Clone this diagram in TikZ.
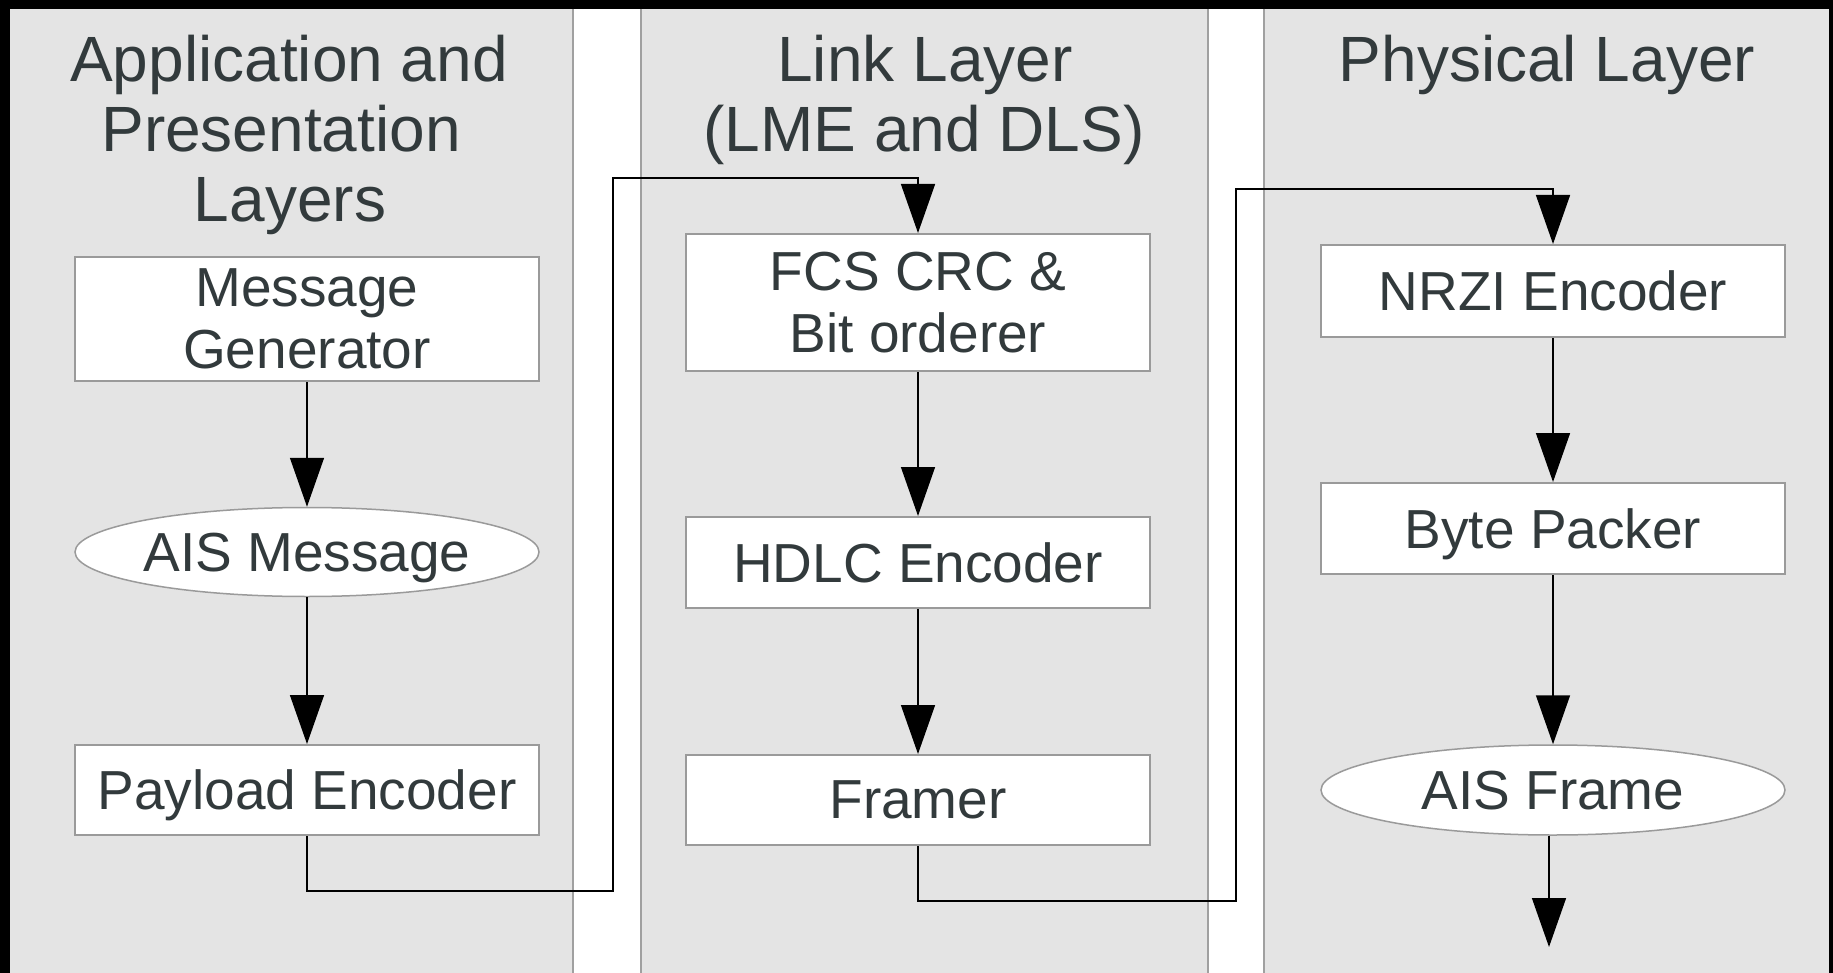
\documentclass[tikz,border=0pt]{standalone}
\usepackage{fontspec}
\setmainfont{Liberation Sans}
\usetikzlibrary{arrows.meta,shapes.geometric}
\definecolor{colbg}{HTML}{E4E4E4}
\definecolor{sepline}{HTML}{A0A0A0}
\definecolor{boxline}{HTML}{9A9A9A}
\definecolor{txt}{HTML}{323A3C}
\begin{document}
\begin{tikzpicture}[x=1pt,y=-1pt,
  title/.style={anchor=base,text=txt,font=\fontsize{64}{70}\selectfont,inner sep=0pt},
  blockbox/.style={draw=boxline,line width=2pt,fill=white,minimum width=464pt,inner sep=0pt,align=center,text=txt,text depth=0pt,font=\fontsize{55}{62}\selectfont},
  dataell/.style={blockbox,ellipse,line width=1.5pt},
  conn/.style={draw=black,line width=1.5pt,-{Triangle[length=49pt,width=34pt]}},
  colsep/.style={draw=sepline,line width=2pt}]
\useasboundingbox (0,0) rectangle (1833,973);
% frame and columns
\fill[black] (0,0) rectangle (1833,973);
\fill[white] (10,9) rectangle (1829,973);
\fill[colbg] (10,9) rectangle (573,973);
\fill[colbg] (641,9) rectangle (1208,973);
\fill[colbg] (1264,9) rectangle (1829,973);
\draw[colsep] (573,9) -- (573,973);
\draw[colsep] (641,9) -- (641,973);
\draw[colsep] (1208,9) -- (1208,973);
\draw[colsep] (1264,9) -- (1264,973);
% titles
\node[title] (t1a) at (289,82) {Application and};
\node[title] (t1b) at (281,152) {Presentation};
\node[title] (t1c) at (290,222) {Layers};
\node[title] (t2a) at (925,82) {Link Layer};
\node[title] (t2b) at (924,152) {(LME and DLS)};
\node[title] (t3a) at (1547,82) {Physical Layer};
% blocks
\node[blockbox,minimum height=124pt] (mg) at (307,319) {Message\\Generator};
\node[dataell,minimum height=89pt] (aism) at (307,552) {AIS Message};
\node[blockbox,minimum height=90pt] (pe) at (307,790) {Payload Encoder};
\node[blockbox,minimum height=137pt] (fcs) at (918,302.5) {FCS CRC \&\\Bit orderer};
\node[blockbox,minimum height=91pt] (hdlc) at (918,562.5) {HDLC Encoder};
\node[blockbox,minimum height=90pt] (fr) at (918,800) {Framer};
\node[blockbox,minimum height=92pt] (nrzi) at (1553,291) {NRZI Encoder};
\node[blockbox,minimum height=91pt] (bp) at (1553,528.5) {Byte Packer};
\node[dataell,minimum height=90pt] (af) at (1553,790) {AIS Frame};
% connectors
\draw[conn] (mg) -- (aism);
\draw[conn] (aism) -- (pe);
\coordinate (j1) at (613,891);
\coordinate (j2) at (613,178);
\draw[conn] (pe.south) |- (j1) -- (j2) -| (fcs.north);
\draw[conn] (fcs) -- (hdlc);
\draw[conn] (hdlc) -- (fr);
\coordinate (j3) at (1236,901);
\coordinate (j4) at (1236,189);
\draw[conn] (fr.south) |- (j3) -- (j4) -| (nrzi.north);
\draw[conn] (nrzi) -- (bp);
\draw[conn] (bp) -- (af);
\coordinate (out) at (1549,947);
\draw[conn] (out |- af.south) -- (out);
\end{tikzpicture}
\end{document}
